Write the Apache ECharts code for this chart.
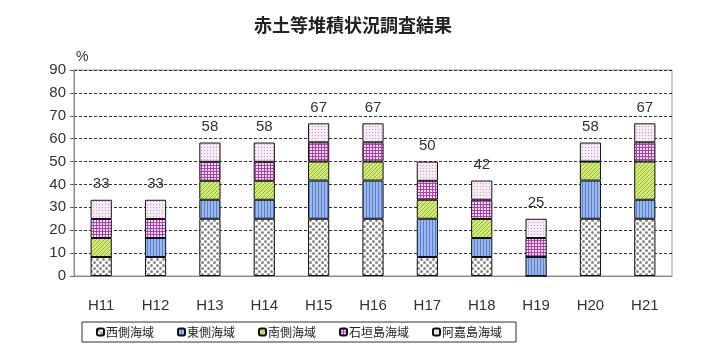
<!DOCTYPE html>
<html>
<head>
<meta charset="utf-8">
<script src="https://cdn.jsdelivr.net/npm/echarts@6/dist/echarts.min.js"></script>
<style>
  html, body { margin: 0; padding: 0; background: #fff; }
  #chart { width: 720px; height: 354px; }
</style>
</head>
<body>
<div id="chart"></div>
<script>
// 年度
const years = ['H11', 'H12', 'H13', 'H14', 'H15', 'H16', 'H17', 'H18', 'H19', 'H20', 'H21']
// 各海域 (%)
const westSea = [8.3, 8.3, 25.0, 25.0, 25.0, 25.0, 8.3, 8.3, 0, 25.0, 25.0]
const eastSea = [0, 8.3, 8.3, 8.3, 16.7, 16.7, 16.7, 8.3, 8.3, 16.7, 8.3]
const southSea = [8.3, 0, 8.3, 8.3, 8.3, 8.3, 8.3, 8.3, 0, 8.3, 16.7]
const ishigakiSea = [8.3, 8.3, 8.3, 8.3, 8.4, 8.4, 8.3, 8.4, 8.3, 0, 8.4]
const akajimaSea = [8.4, 8.4, 8.4, 8.4, 8.3, 8.3, 8.4, 8.4, 8.4, 8.3, 8.3]
const yTicks = [0, 10, 20, 30, 40, 50, 60, 70, 80, 90]

// パターン作成
function pattern(size, draw) {
  const c = document.createElement('canvas')
  c.width = size; c.height = size
  const ctx = c.getContext('2d')
  draw(ctx, size)
  return { image: c, repeat: 'repeat' }
}
const pWest = pattern(6, (ctx) => {
  ctx.fillStyle = '#fff'; ctx.fillRect(0, 0, 6, 6)
  ctx.fillStyle = '#8a8a8a'
  ctx.beginPath(); ctx.arc(1.5, 1.5, 1.5, 0, Math.PI * 2); ctx.fill()
  ctx.beginPath(); ctx.arc(4.5, 4.5, 1.5, 0, Math.PI * 2); ctx.fill()
})
const pEast = pattern(3, (ctx) => {
  ctx.fillStyle = '#9bb7ec'; ctx.fillRect(0, 0, 3, 3)
  ctx.fillStyle = '#5b7fcf'; ctx.fillRect(0, 0, 1, 3)
})
const pSouth = pattern(4, (ctx) => {
  ctx.fillStyle = '#d6ec7a'; ctx.fillRect(0, 0, 4, 4)
  ctx.strokeStyle = '#8fb23a'; ctx.lineWidth = 1
  ctx.beginPath(); ctx.moveTo(0, 4); ctx.lineTo(4, 0); ctx.stroke()
  ctx.beginPath(); ctx.moveTo(-1, 1); ctx.lineTo(1, -1); ctx.stroke()
  ctx.beginPath(); ctx.moveTo(3, 5); ctx.lineTo(5, 3); ctx.stroke()
})
const pIshi = pattern(3, (ctx) => {
  ctx.fillStyle = '#f7e2f7'; ctx.fillRect(0, 0, 3, 3)
  ctx.fillStyle = '#b03cb0'; ctx.fillRect(0, 0, 3, 1); ctx.fillRect(0, 0, 1, 3)
})
const pAka = pattern(3, (ctx) => {
  ctx.fillStyle = '#f6eaf4'; ctx.fillRect(0, 0, 3, 3)
  ctx.fillStyle = '#c9a0c0'; ctx.fillRect(0, 0, 1, 1)
})

const totals = years.map((_, i) =>
  westSea[i] + eastSea[i] + southSea[i] + ishigakiSea[i] + akajimaSea[i])

const chart = echarts.init(document.getElementById('chart'))

const itemBase = { borderColor: '#111', borderWidth: 1 }
function bar(name, data, fill, last) {
  return {
    name, type: 'bar', stack: 'total', data, barWidth: '39%',
    itemStyle: Object.assign({ color: fill }, itemBase),
    label: last ? {
      show: true, position: 'top', distance: 8,
      formatter: (p) => Math.round(totals[p.dataIndex]),
      fontSize: 15, color: '#333', fontFamily: 'Liberation Sans, Arial'
    } : { show: false }
  }
}

chart.setOption({
  animation: false,
  title: {
    text: '赤土等堆積状況調査結果', left: 348, top: 11, textAlign: 'center',
    textStyle: { fontSize: 18, fontWeight: 'bold', color: '#222', fontFamily: 'Noto Sans CJK JP' }
  },
  legend: {
    left: 82, top: 322, height: 22,
    padding: [4, 14, 4, 14], itemGap: 23,
    itemWidth: 7, itemHeight: 7,
    borderColor: '#333', borderWidth: 1,
    textStyle: { fontSize: 12, color: '#222', fontFamily: 'Noto Sans CJK JP', padding: [0, 0, 0, -3] }
  },
  grid: {
    left: 74, right: 48, top: 70, bottom: 78,
    show: true, borderColor: '#999', borderWidth: 1
  },
  xAxis: {
    type: 'category', data: years,
    axisLine: { lineStyle: { color: '#888', width: 1 } },
    axisTick: { inside: true, length: 4, lineStyle: { color: '#666' } },
    axisLabel: { fontSize: 15, color: '#333', margin: 22, fontFamily: 'Liberation Sans, Arial' }
  },
  yAxis: {
    type: 'value', min: 0, max: 90, interval: 10,
    name: '%', nameLocation: 'end', nameGap: 6,
    nameTextStyle: { fontSize: 14, color: '#333', align: 'left', padding: [0, 0, 0, 2] },
    axisLine: { show: true, lineStyle: { color: '#888' } },
    axisTick: { show: true, length: 4, lineStyle: { color: '#666' } },
    axisLabel: {
      fontSize: 15, color: '#333', margin: 8, fontFamily: 'Liberation Sans, Arial',
      formatter: (v) => yTicks.includes(v) ? String(v) : ''
    },
    splitLine: { lineStyle: { color: '#333', type: [3, 2], width: 1 } }
  },
  series: [
    bar('西側海域', westSea, pWest),
    bar('東側海域', eastSea, pEast),
    bar('南側海域', southSea, pSouth),
    bar('石垣島海域', ishigakiSea, pIshi),
    bar('阿嘉島海域', akajimaSea, pAka, true)
  ]
})
</script>
</body>
</html>
